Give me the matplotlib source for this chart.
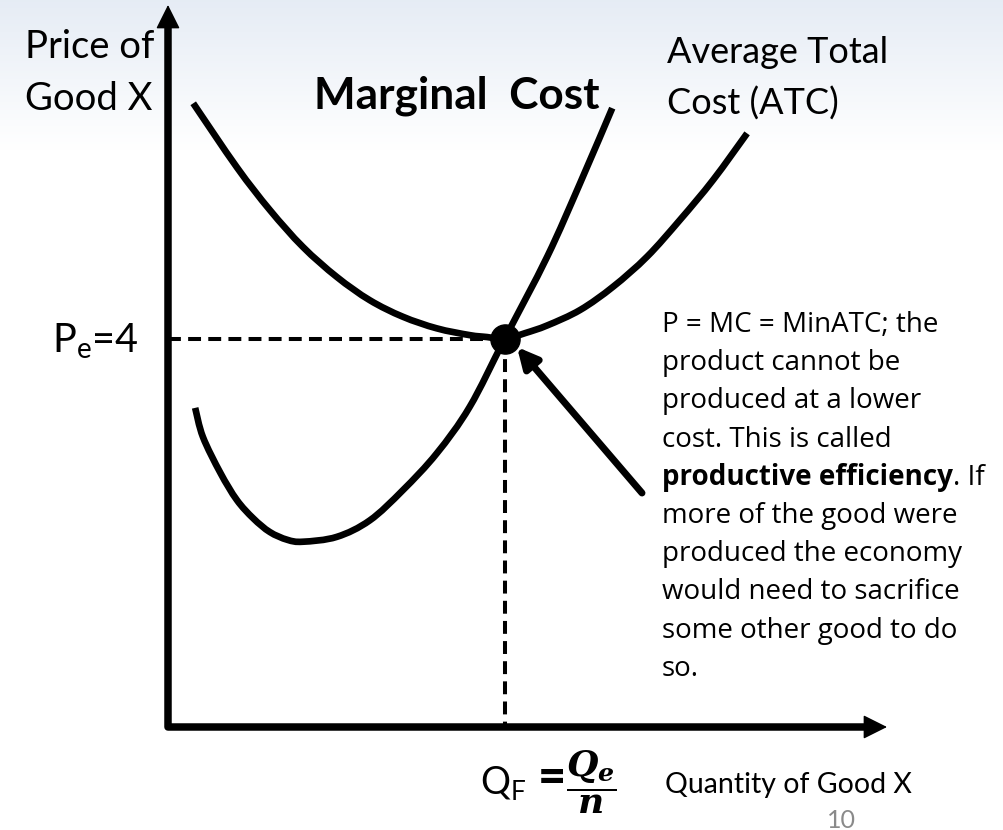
import numpy as np
import matplotlib.pyplot as plt
from matplotlib.path import Path
from matplotlib.patches import PathPatch

# cost curves (quantity, price units)
atc_q = [0.26, 0.71, 1.05, 1.39, 1.74, 2.08, 2.42, 2.77, 3.11, 3.29, 3.47, 3.68, 3.91, 4.25, 4.59, 4.94, 5.28, 5.62, 5.97]
atc_p = [6.43, 5.77, 5.33, 4.95, 4.64, 4.40, 4.23, 4.11, 4.04, 4.02, 4.00, 4.06, 4.14, 4.30, 4.54, 4.85, 5.23, 5.64, 6.12]

mc_q = [0.28, 0.36, 0.54, 0.71, 0.88, 1.05, 1.23, 1.39, 1.74, 2.08, 2.42, 2.77, 3.11, 3.47, 3.91, 4.25, 4.58]
mc_p = [3.29, 2.99, 2.62, 2.34, 2.15, 2.01, 1.93, 1.91, 1.96, 2.13, 2.44, 2.82, 3.30, 4.00, 4.85, 5.61, 6.38]

q_f = 3.47
p_e = 4.0

note_lines = [
    "P = MC = MinATC; the",
    "product cannot be",
    "produced at a lower",
    "cost. This is called",
    None,  # bold line, drawn separately
    "more of the good were",
    "produced the economy",
    "would need to sacrifice",
    "some other good to do",
    "so.",
]

# pixel layout helpers: origin of the diagram at (168, 727) px, 97 px per unit
S = 97.0
X0, Y0 = 168, 727
W, H = 1004, 830


def at(xp, yp):
    return (xp - X0) / S, (Y0 - yp) / S


def smooth_path(xs, ys):
    # draw through the read points with cubic segments instead of straight ones
    p = np.column_stack([xs, ys])
    verts, codes = [p[0]], [Path.MOVETO]
    for i in range(len(p) - 1):
        p0 = p[i - 1] if i > 0 else p[i]
        p3 = p[i + 2] if i + 2 < len(p) else p[i + 1]
        verts += [p[i] + (p[i + 1] - p0) / 6, p[i + 1] - (p3 - p[i]) / 6, p[i + 1]]
        codes += [Path.CURVE4] * 3
    return Path(verts, codes)


FONT = 'Lato'
NOTE_FONT = 'Open Sans'

fig = plt.figure(figsize=(W / 100, H / 100), dpi=100)
ax = fig.add_axes([0, 0, 1, 1])
ax.set_xlim(-X0 / S, (W - X0) / S)
ax.set_ylim(-(H - Y0) / S, Y0 / S)
ax.axis('off')

# soft bluish band at the top of the slide
top = np.array([0.90, 0.925, 0.96])
rows = np.linspace(0, 1, H)
fade = np.clip(rows * H / 150, 0, 1)[:, None, None]
grad = top * (1 - fade) + np.ones(3) * fade
ax.imshow(grad, extent=[-X0 / S, (W - X0) / S, -(H - Y0) / S, Y0 / S],
          aspect='auto', zorder=0, origin='upper')

# axes
y_tip = at(0, 5)[1]
x_tip = at(887, 0)[0]
ax.plot([0, 0, x_tip - 0.2], [y_tip - 0.2, 0, 0], color='black', lw=5.4,
        solid_joinstyle='round', solid_capstyle='butt', zorder=3)
head = dict(arrowstyle='-|>', color='black', lw=1, mutation_scale=38,
            shrinkA=0, shrinkB=0)
ax.annotate('', xy=(0, y_tip), xytext=(0, y_tip - 0.4), arrowprops=head, zorder=3)
ax.annotate('', xy=(x_tip, 0), xytext=(x_tip - 0.4, 0), arrowprops=head, zorder=3)

# curves
for qs, ps in [(atc_q, atc_p), (mc_q, mc_p)]:
    ax.add_patch(PathPatch(smooth_path(qs, ps), fill=False, edgecolor='black',
                           lw=4.8, capstyle='butt', joinstyle='round', zorder=4))

# dashed guides
dash = (0, (3.2, 1.8))
ax.plot([0, q_f], [p_e, p_e], color='black', lw=2.9, linestyle=dash, zorder=2)
ax.plot([q_f, q_f], [p_e, 0], color='black', lw=2.9, linestyle=dash, zorder=2)

ax.plot([q_f], [p_e], 'o', color='black', markersize=21, zorder=5)

# pointer arrow to the equilibrium
ax.annotate('', xy=at(517, 347), xytext=at(642, 493),
            arrowprops=dict(arrowstyle='-|>', color='black', lw=5,
                            mutation_scale=30, shrinkA=0, shrinkB=0),
            zorder=5)

# labels
ax.text(*at(25, 58), 'Price of', fontsize=27.5, family=FONT, va='baseline')
ax.text(*at(25, 110), 'Good X', fontsize=27.5, family=FONT, va='baseline')
ax.text(*at(314, 108), 'Marginal  Cost', fontsize=31.8, family=FONT,
        fontweight='bold', va='baseline')
ax.text(*at(667, 63), 'Average Total', fontsize=26, family=FONT, va='baseline')
ax.text(*at(667, 115), 'Cost (ATC)', fontsize=26, family=FONT, va='baseline')

ax.text(*at(52, 352), r'P$_\mathregular{e}$=4', fontsize=28.5, family=FONT,
        va='baseline')
ax.text(*at(480, 795), r'Q$_\mathregular{F}$', fontsize=27, family=FONT,
        va='baseline')
ax.text(*at(538, 793), '=', fontsize=35, family=FONT, fontweight='black',
        va='baseline')
ax.text(*at(566, 782), r'$\dfrac{\mathbfit{Q_e}}{\mathbfit{n}}$',
        fontsize=26, math_fontfamily='dejavuserif', va='center')
ax.text(*at(665, 793), 'Quantity of Good X', fontsize=20.5, family=FONT,
        va='baseline')
ax.text(*at(827, 828), '10', fontsize=18, family=FONT, color='#8a8a8a',
        va='baseline')

# explanatory note
line_h = 38.2
for i, line in enumerate(note_lines):
    yb = 332 + i * line_h
    if line is None:
        bold = ax.text(*at(662, yb), 'productive efficiency', fontsize=20,
                       family=NOTE_FONT, fontweight='bold', va='baseline')
        ax.annotate('. If', xy=(1, 0), xycoords=bold, fontsize=20,
                    family=NOTE_FONT, va='bottom', ha='left')
    else:
        ax.text(*at(662, yb), line, fontsize=20, family=NOTE_FONT, va='baseline')

fig.savefig('out.png', dpi=100)
